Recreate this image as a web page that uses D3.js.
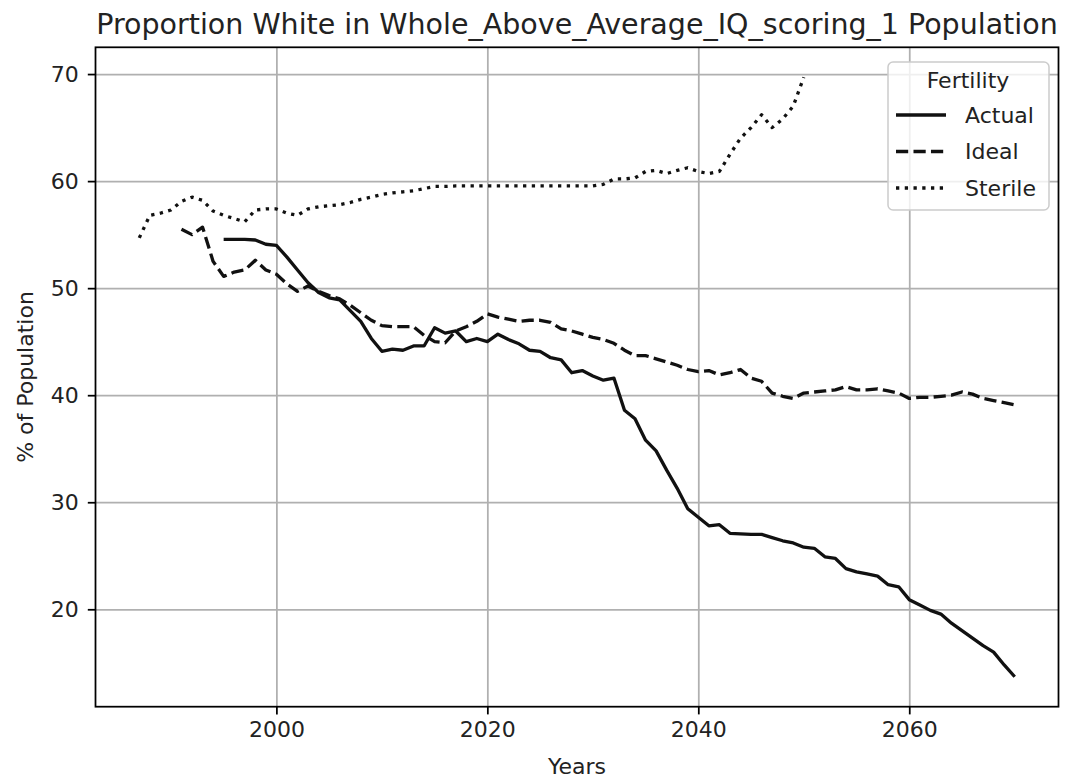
<!DOCTYPE html>
<html>
<head>
<meta charset="utf-8">
<script src="https://cdn.jsdelivr.net/npm/d3@7"></script>
<style>
body { margin: 0; background: #fff; }
svg { font-family: "DejaVu Sans", sans-serif; }
</style>
</head>
<body>
<div id="chart"></div>
<script>
// values, one per year
const actualYears = d3.range(1995, 2071);
const actual = [
    54.55, 54.55, 54.55, 54.5, 54.1, 54.0, 52.9, 51.7, 50.5, 49.6,
    49.1, 48.9, 47.9, 46.9, 45.3, 44.1, 44.3, 44.2, 44.6, 44.6,
    46.3, 45.8, 46.0, 45.0, 45.3, 45.0, 45.7, 45.2, 44.8, 44.2,
    44.1, 43.5, 43.3, 42.1, 42.3, 41.8, 41.4, 41.6, 38.6, 37.8,
    35.8, 34.8, 33.0, 31.3, 29.4, 28.6, 27.8, 27.9, 27.1, 27.05,
    27.0, 27.0, 26.7, 26.4, 26.2, 25.8, 25.7, 24.9, 24.75, 23.8,
    23.5, 23.3, 23.1, 22.3, 22.1, 20.9, 20.4, 19.9, 19.55, 18.7,
    18.0, 17.3, 16.6, 16.0, 14.8, 13.7
];

const idealYears = d3.range(1991, 2071);
const ideal = [
    55.5, 55.0, 55.7, 52.5, 51.1, 51.5, 51.7, 52.6, 51.7, 51.3,
    50.4, 49.7, 50.2, 49.7, 49.3, 49.0, 48.4, 47.7, 47.0, 46.5,
    46.4, 46.4, 46.4, 45.6, 45.0, 44.9, 46.0, 46.4, 46.9, 47.6,
    47.3, 47.1, 46.9, 47.0, 47.0, 46.8, 46.2, 46.0, 45.7, 45.4,
    45.2, 44.85, 44.2, 43.7, 43.7, 43.4, 43.1, 42.8, 42.4, 42.2,
    42.3, 41.9, 42.1, 42.4, 41.6, 41.3, 40.2, 39.9, 39.7, 40.2,
    40.3, 40.4, 40.5, 40.8, 40.5, 40.5, 40.6, 40.4, 40.2, 39.7,
    39.8, 39.8, 39.9, 40.0, 40.3, 40.1, 39.7, 39.5, 39.3, 39.1
];

const sterileYears = d3.range(1987, 2051);
const sterile = [
    54.7, 56.8, 57.0, 57.3, 58.1, 58.5, 58.2, 57.2, 56.8, 56.5,
    56.2, 57.3, 57.4, 57.4, 57.0, 56.8, 57.4, 57.6, 57.7, 57.8,
    58.0, 58.3, 58.5, 58.75, 58.9, 59.0, 59.1, 59.3, 59.5, 59.5,
    59.55, 59.55, 59.55, 59.55, 59.55, 59.55, 59.55, 59.55, 59.55, 59.55,
    59.55, 59.55, 59.55, 59.55, 59.7, 60.2, 60.2, 60.3, 60.9, 61.0,
    60.7, 61.0, 61.25, 60.9, 60.7, 60.9, 62.5, 64.0, 65.0, 66.2,
    65.0, 65.8, 67.0, 69.7
];

const seriesNames = ["Actual", "Ideal", "Sterile"];
const xTicks = [2000, 2020, 2040, 2060];
const yTicks = [20, 30, 40, 50, 60, 70];

const W = 1067, H = 782;
const margin = {top: 47.3, right: 8.5, bottom: 75.3, left: 95.5};
const width = W - margin.left - margin.right,
      height = H - margin.top - margin.bottom;

const lw = 3.3;
const dashes = {"Actual": null, "Ideal": `${3.7 * lw},${1.6 * lw}`, "Sterile": `${1 * lw},${1.65 * lw}`};

const series = [
    {name: "Actual", pts: actualYears.map((y, i) => ({year: y, value: actual[i]}))},
    {name: "Ideal", pts: idealYears.map((y, i) => ({year: y, value: ideal[i]}))},
    {name: "Sterile", pts: sterileYears.map((y, i) => ({year: y, value: sterile[i]}))}
];

const svg = d3.select("#chart")
    .append("svg")
    .attr("width", W)
    .attr("height", H);

const g = svg.append("g")
    .attr("transform", `translate(${margin.left},${margin.top})`);

// matplotlib-like 5% margins around the data
const all = series.flatMap(s => s.pts);
const xExt = d3.extent(all, d => d.year), yExt = d3.extent(all, d => d.value);
const xPad = (xExt[1] - xExt[0]) * 0.05, yPad = (yExt[1] - yExt[0]) * 0.05;

const x = d3.scaleLinear()
    .domain([xExt[0] - xPad, xExt[1] + xPad])
    .range([0, width]);
const y = d3.scaleLinear()
    .domain([yExt[0] - yPad, yExt[1] + yPad])
    .range([height, 0]);

// grid
g.append("g")
    .attr("transform", `translate(0,${height})`)
    .call(d3.axisBottom(x).tickValues(xTicks).tickSize(-height).tickFormat(""))
    .call(a => a.select(".domain").remove())
    .selectAll("line").attr("stroke", "#b0b0b0").attr("stroke-width", 1.76);
g.append("g")
    .call(d3.axisLeft(y).tickValues(yTicks).tickSize(-width).tickFormat(""))
    .call(a => a.select(".domain").remove())
    .selectAll("line").attr("stroke", "#b0b0b0").attr("stroke-width", 1.76);

// lines
const line = d3.line()
    .x(d => x(d.year))
    .y(d => y(d.value));

g.selectAll(".series")
    .data(series)
    .join("path")
    .attr("class", "series")
    .attr("fill", "none")
    .attr("stroke", "#111")
    .attr("stroke-width", lw)
    .attr("stroke-linejoin", "round")
    .attr("stroke-dasharray", d => dashes[d.name])
    .attr("d", d => line(d.pts));

// axes
const xAxis = g.append("g")
    .attr("transform", `translate(0,${height})`)
    .call(d3.axisBottom(x).tickValues(xTicks).tickFormat(d3.format("d")).tickSize(7.7).tickPadding(7));
const yAxis = g.append("g")
    .call(d3.axisLeft(y).tickValues(yTicks).tickSize(7.7).tickPadding(9));
[xAxis, yAxis].forEach(a => {
    a.select(".domain").remove();
    a.selectAll("line").attr("stroke", "#000").attr("stroke-width", 1.76);
    a.selectAll("text").attr("font-size", 22).attr("fill", "#222").attr("font-family", "DejaVu Sans");
});

// frame
g.append("rect")
    .attr("width", width)
    .attr("height", height)
    .attr("fill", "none")
    .attr("stroke", "#000")
    .attr("stroke-width", 1.76);

// titles
svg.append("text")
    .attr("x", margin.left + width / 2)
    .attr("y", 34)
    .attr("text-anchor", "middle")
    .attr("font-size", 28.5)
    .attr("fill", "#222")
    .text("Proportion White in Whole_Above_Average_IQ_scoring_1 Population");

svg.append("text")
    .attr("x", margin.left + width / 2)
    .attr("y", 774)
    .attr("text-anchor", "middle")
    .attr("font-size", 22)
    .attr("fill", "#222")
    .text("Years");

svg.append("text")
    .attr("transform", `translate(25,${margin.top + height / 2}) rotate(-90)`)
    .attr("dy", "0.35em")
    .attr("text-anchor", "middle")
    .attr("font-size", 22)
    .attr("fill", "#222")
    .text("% of Population");

// legend
const legend = svg.append("g").attr("transform", "translate(888,62)");
legend.append("rect")
    .attr("width", 161)
    .attr("height", 148)
    .attr("rx", 5)
    .attr("fill", "#fff")
    .attr("fill-opacity", 0.8)
    .attr("stroke", "#ccc")
    .attr("stroke-width", 1.5);
legend.append("text")
    .attr("x", 80)
    .attr("y", 18)
    .attr("dy", "0.35em")
    .attr("text-anchor", "middle")
    .attr("font-size", 22)
    .attr("fill", "#222")
    .text("Fertility");
const item = legend.selectAll(".item")
    .data(seriesNames)
    .join("g")
    .attr("class", "item")
    .attr("transform", (d, i) => `translate(0,${53 + i * 36.5})`);
item.append("line")
    .attr("x1", 8).attr("x2", 58)
    .attr("stroke", "#111")
    .attr("stroke-width", lw)
    .attr("stroke-dasharray", d => dashes[d]);
item.append("text")
    .attr("x", 77)
    .attr("dy", "0.35em")
    .attr("font-size", 22)
    .attr("fill", "#222")
    .text(d => d);
</script>
</body>
</html>
